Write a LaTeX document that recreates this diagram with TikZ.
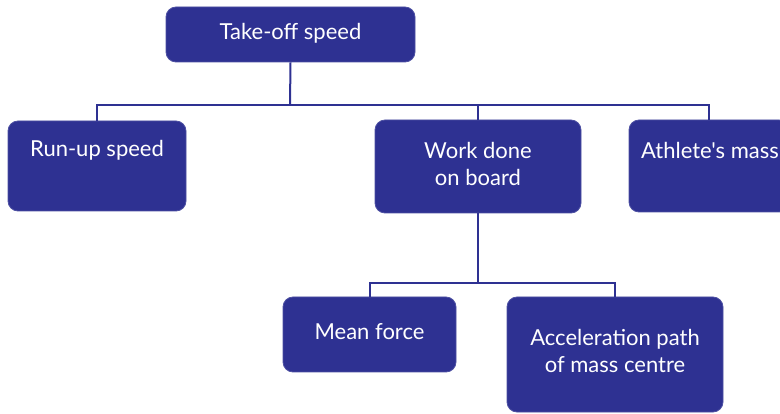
\documentclass[tikz,border=0pt]{standalone}
\usepackage{fontspec}
\setmainfont{Lato}[Ligatures=TeXOff]
\definecolor{boxblue}{RGB}{46,49,146}
\begin{document}
\begin{tikzpicture}[x=1pt,y=-1pt,
  box/.style={draw=boxblue!85!white, line width=0.8pt, fill=boxblue, rounded corners=10pt, inner sep=0pt},
  txt/.style={text=white, font=\fontsize{22}{27}\selectfont, align=center, inner sep=0pt},
  link/.style={draw=boxblue, line width=2pt}]
\useasboundingbox (0,0) rectangle (780,414);
\clip (0,0) rectangle (780,414);
% boxes
\node[box, minimum width=249pt, minimum height=55pt] (take) at (290.5,34.5) {};
\node[box, minimum width=178pt, minimum height=90pt] (run) at (97,166) {};
\node[box, minimum width=206pt, minimum height=93pt] (work) at (478,166.5) {};
\node[box, minimum width=160pt, minimum height=92pt] (ath) at (709,166) {};
\node[box, minimum width=173pt, minimum height=75pt] (mean) at (369.5,334.5) {};
\node[box, minimum width=216pt, minimum height=115pt] (acc) at (615,354.5) {};
% labels
\node[txt] (taket) at (290.5,33) {Take-off speed};
\node[txt] (runt) at (97,150) {Run-up speed};
\node[txt] (workt) at (478,163.5) {Work done\\on board};
\node[txt, anchor=west] (atht) at (641,150) {Athlete's mass};
\node[txt] (meant) at (369.5,332) {Mean force};
\node[txt] (acct) at (615,351) {Acceleration path\\of mass centre};
% connectors
\coordinate (bus1) at (290,105);
\coordinate (bus2) at (478,283);
\draw[link] (take.south) -- (bus1);
\draw[link] (run.north) |- (bus1);
\draw[link] (ath.north) |- (bus1);
\draw[link] (work.north) -- (work.north |- bus1);
\draw[link] (work.south) -- (bus2);
\draw[link] (mean.north) |- (bus2);
\draw[link] (acc.north) |- (bus2);
\end{tikzpicture}
\end{document}
